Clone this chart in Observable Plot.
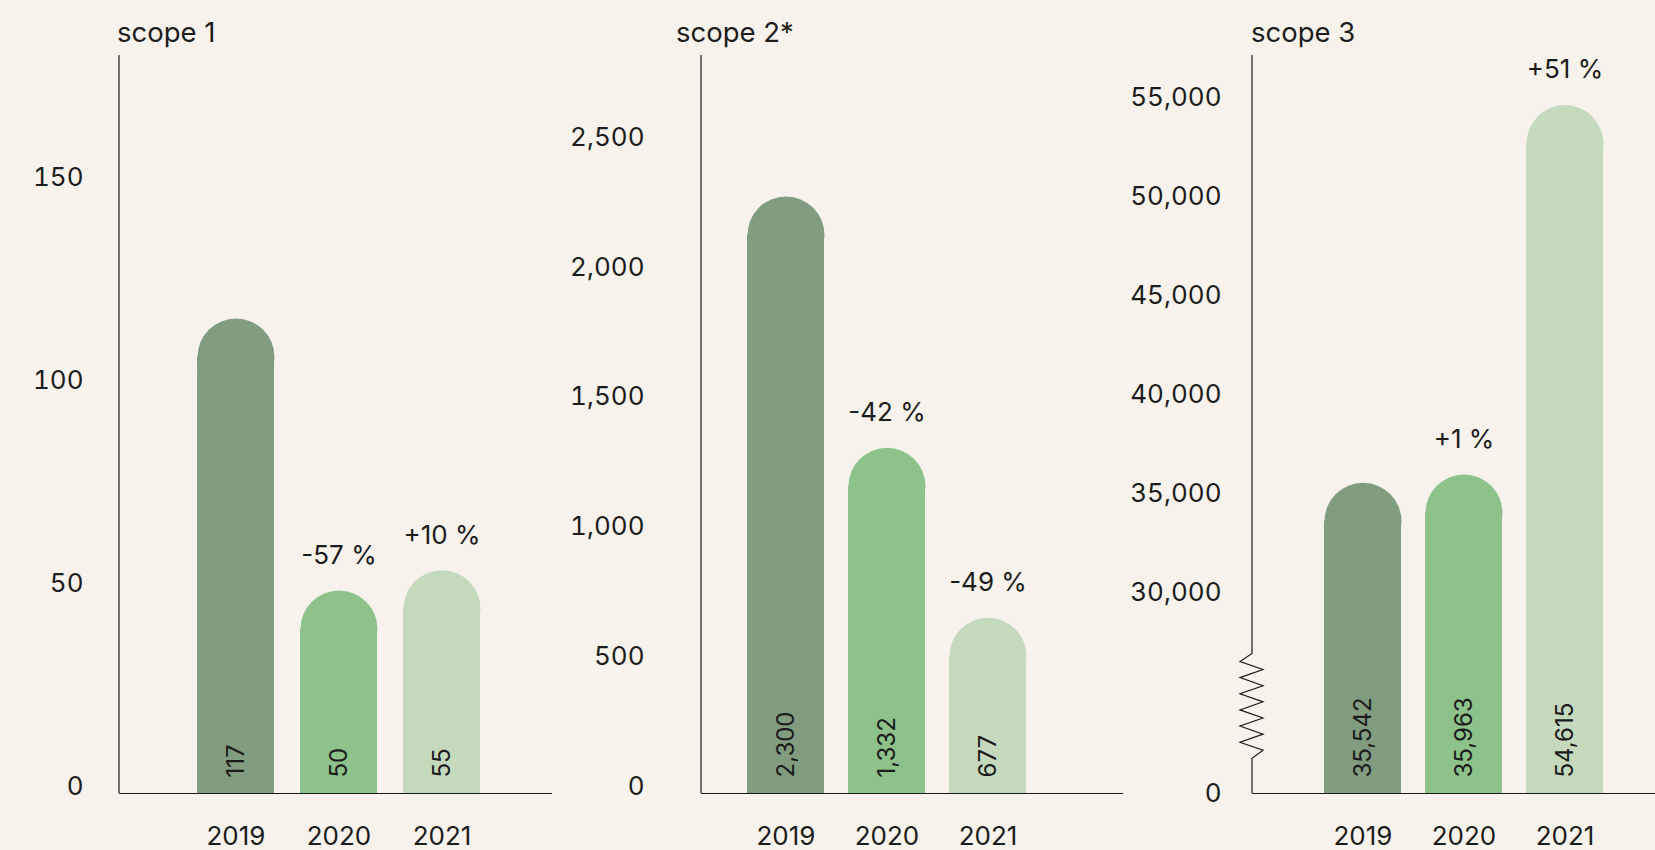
<!DOCTYPE html>
<html>
<head>
<meta charset="utf-8">
<script src="https://cdn.jsdelivr.net/npm/d3@7"></script>
<script src="https://cdn.jsdelivr.net/npm/@observablehq/plot@0.6"></script>
<style>
  html, body { margin: 0; padding: 0; background: #f7f3ec; }
  #wrap { position: relative; width: 1655px; height: 850px; overflow: hidden; background: #f7f3ec;
          font-family: Inter, "Open Sans", sans-serif; color: #1c1c1c; }
  .panel { position: absolute; top: 0; }
  .title { position: absolute; top: 18px; font-size: 27.5px; line-height: 28px; white-space: nowrap; }
</style>
</head>
<body>
<div id="wrap"></div>
<script>
// ---- data ----
const years = ["2019", "2020", "2021"];
const titles = ["scope 1", "scope 2*", "scope 3"];
const scope1 = [117, 50, 55];
const scope2 = [2300, 1332, 677];
const scope3 = [35542, 35963, 54615];
const change1 = [null, "-57 %", "+10 %"];
const change2 = [null, "-42 %", "-49 %"];
const change3 = [null, "+1 %", "+51 %"];
const ticks1 = [0, 50, 100, 150];
const ticks2 = [0, 500, 1000, 1500, 2000, 2500];
const ticks3 = [30000, 35000, 40000, 45000, 50000, 55000];
const scope3Base = 19850;           // value at the bottom of the broken scope-3 axis (labelled "0")
const scope3Break = [21600, 26900]; // extent of the axis break
const colors = ["#819c7e", "#8dc38b", "#c5d9bd"];

// ---- layout / style ----
const FONT = "Inter, 'Open Sans', sans-serif";
const INK = "#1c1c1c";
const fmt = d3.format(",");

const panels = [
  {values: scope1, change: change1, ticks: ticks1, base: 0, max: 181.8, brk: null,
   left: 0, width: 552, marginLeft: 119, pi: 0.2524, po: 0.728, align: 0.52, tickPad: 36, tickDy: -7, titleLeft: 117},
  {values: scope2, change: change2, ticks: ticks2, base: 0, max: 2843, brk: null,
   left: 552, width: 571, marginLeft: 149, pi: 0.238, po: 0.708, align: 0.32, tickPad: 57, tickDy: -7, titleLeft: 676},
  {values: scope3, change: change3, ticks: [scope3Base, ...ticks3], base: scope3Base, max: 57121, brk: scope3Break,
   left: 1123, width: 532, marginLeft: 129, pi: 0.241, po: 0.606, align: 0.577, tickPad: 31, tickDy: 0, titleLeft: 1251}
];

const wrap = document.getElementById("wrap");

function leftAxis(brk) {
  return (index, scales, values, dimensions) => {
    const x0 = dimensions.marginLeft;
    const top = dimensions.marginTop;
    const bottom = dimensions.height - dimensions.marginBottom;
    const p = d3.path();
    p.moveTo(x0, top);
    if (brk) {
      const yA = scales.y(brk[1]), yB = scales.y(brk[0]);
      p.lineTo(x0, yA);
      const n = 12, step = (yB - yA) / (n + 1);
      for (let i = 1; i <= n; i++) p.lineTo(x0 + (i % 2 ? -12 : 11), yA + i * step);
      p.lineTo(x0, yB);
    }
    p.lineTo(x0, bottom);
    return d3.create("svg:path").attr("d", p.toString()).attr("fill", "none")
      .attr("stroke", INK).attr("stroke-width", 1.2).node();
  };
}

panels.forEach((P, k) => {
  const data = years.map((year, i) => ({year, value: P.values[i], change: P.change[i]}));
  const R = 38.5;
  const chart = Plot.plot({
    width: P.width,
    height: 850,
    marginTop: 55,
    marginBottom: 57,
    marginLeft: P.marginLeft,
    marginRight: 0,
    style: {background: "transparent", fontFamily: FONT, fontSize: "26px", color: INK, overflow: "visible"},
    x: {type: "band", domain: years, paddingInner: P.pi, paddingOuter: P.po, align: P.align, axis: null},
    y: {domain: [P.base, P.max], axis: null},
    color: {domain: years, range: colors},
    marks: [
      Plot.barY(data, {x: "year", y1: P.base, y2: "value", fill: "year", insetTop: R}),
      Plot.dot(data, {x: "year", y: "value", r: R, dy: R, fill: "year", stroke: null}),
      Plot.ruleY([P.base], {stroke: INK, strokeWidth: 1.2}),
      leftAxis(P.brk),
      Plot.axisY(P.ticks, {tickSize: 0, tickPadding: P.tickPad, dy: P.tickDy, fill: INK, fontSize: 26, label: null,
        tickFormat: d => (d === P.base ? "0" : fmt(d))}),
      Plot.axisX({tickSize: 0, tickPadding: 33, fill: INK, fontSize: 26, label: null}),
      Plot.text(data, {x: "year", y: P.base, text: d => fmt(d.value), rotate: -90, textAnchor: "start",
        dy: -16, fontSize: 24, fill: INK}),
      Plot.text(data.filter(d => d.change), {x: "year", y: "value", text: "change", dy: -35, fontSize: 26, fill: INK})
    ]
  });
  chart.classList.add("panel");
  chart.style.left = P.left + "px";
  wrap.appendChild(chart);

  const t = document.createElement("div");
  t.className = "title";
  t.style.left = P.titleLeft + "px";
  t.textContent = titles[k];
  wrap.appendChild(t);
});
</script>
</body>
</html>
